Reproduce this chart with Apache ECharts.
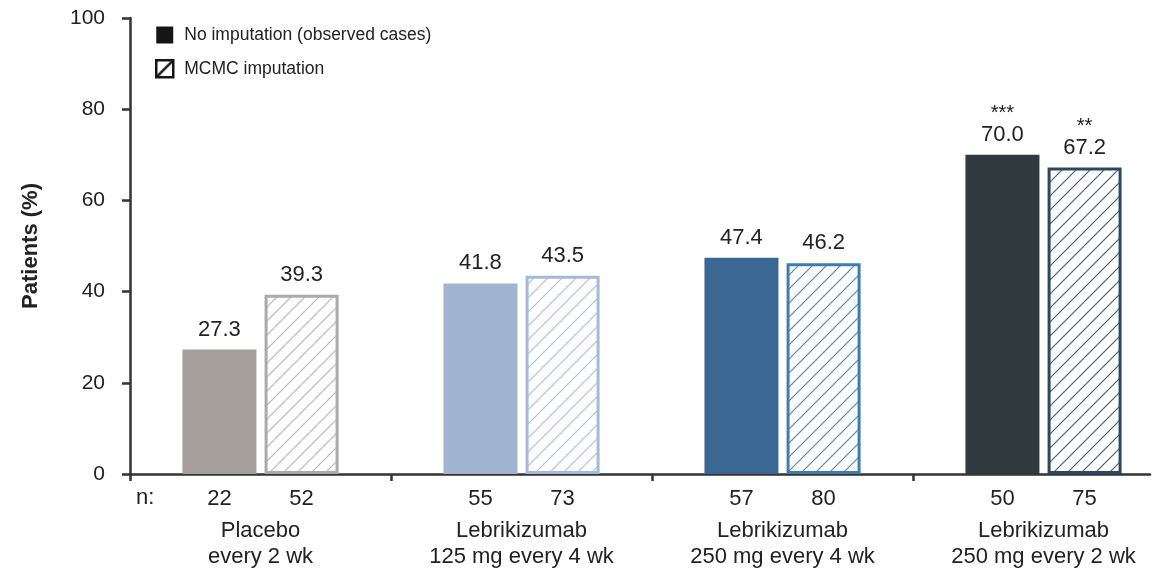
<!DOCTYPE html>
<html>
<head>
<meta charset="utf-8">
<script src="https://cdn.jsdelivr.net/npm/echarts@6/dist/echarts.min.js"></script>
<style>
  html, body { margin: 0; padding: 0; background: #fff; }
  #chart-container { width: 1164px; height: 571px; }
</style>
</head>
<body>
<div id="chart-container"></div>
<script>
var groupLine1 = ['Placebo', 'Lebrikizumab', 'Lebrikizumab', 'Lebrikizumab'];
var groupLine2 = ['every 2 wk', '125 mg every 4 wk', '250 mg every 4 wk', '250 mg every 2 wk'];
var observed = [27.3, 41.8, 47.4, 70.0];
var mcmc = [39.3, 43.5, 46.2, 67.2];
var nObserved = [22, 55, 57, 50];
var nMcmc = [52, 73, 80, 75];
var starsObserved = ['', '', '', '***'];
var starsMcmc = ['', '', '', '**'];
var yTicks = [0, 20, 40, 60, 80, 100];

var solidColors = ['#a69e9b', '#a0b3cf', '#3b6893', '#30393e'];
var hatchBorder = ['#a9abab', '#a5bad8', '#3e7eaf', '#2c4761'];
var hatchLines = ['#b8b8b8', '#adc1dd', '#5089b8', '#42607a'];

var FONT = "'Liberation Sans', Arial, sans-serif";

// group slots on a numeric x axis: boundaries at 0,1,2,3; axis runs a bit short of 4
var groupBounds = [0, 1, 2, 3];
var groupCenters = [0.5, 1.5, 2.5, 3.5];

function hatch(color, s, w) {
  var c = document.createElement('canvas');
  c.width = s; c.height = s;
  var ctx = c.getContext('2d');
  ctx.fillStyle = '#fff';
  ctx.fillRect(0, 0, s, s);
  ctx.strokeStyle = color;
  ctx.lineWidth = w;
  ctx.beginPath();
  ctx.moveTo(0, s); ctx.lineTo(s, 0);
  ctx.moveTo(-2, 2); ctx.lineTo(2, -2);
  ctx.moveTo(s - 2, s + 2); ctx.lineTo(s + 2, s - 2);
  ctx.stroke();
  return { image: c, repeat: 'repeat' };
}

var dom = document.getElementById('chart-container');
var myChart = echarts.init(dom, null, { renderer: 'canvas' });

function valueLabel(vals, stars) {
  return function (p) {
    var s = stars[p.dataIndex];
    var v = '{v|' + vals[p.dataIndex].toFixed(1) + '}';
    return s ? '{s|' + s + '}\n' + v : v;
  };
}

var labelRich = {
  v: { fontSize: 22, color: '#222', fontFamily: FONT, lineHeight: 24 },
  s: { fontSize: 20, color: '#222', fontFamily: FONT, lineHeight: 18 }
};

var option = {
  animation: false,
  grid: { left: 130, right: 14, top: 18, bottom: 97 },
  legend: {
    orient: 'vertical',
    left: 150,
    top: 21,
    itemWidth: 17,
    itemHeight: 17,
    itemGap: 15,
    icon: 'rect',
    textStyle: { fontSize: 17.5, color: '#222', fontFamily: FONT, padding: [0, 0, 0, 6] },
    data: [
      { name: 'No imputation (observed cases)', itemStyle: { color: '#151515' } },
      { name: 'MCMC imputation', itemStyle: { color: hatch('#151515', 17, 2.5), borderColor: '#151515', borderWidth: 2.5 } }
    ]
  },
  graphic: [{
    type: 'text', left: 136, top: 487,
    style: { text: 'n:', fontSize: 22, fill: '#222', fontFamily: FONT }
  }],
  xAxis: {
    type: 'value',
    min: 0,
    max: 3.908,
    interval: 1,
    splitLine: { show: false },
    axisLine: { show: true, lineStyle: { color: '#333', width: 2.5 } },
    axisTick: { show: true, length: 7, customValues: groupBounds, lineStyle: { color: '#333', width: 2.5 } },
    axisLabel: {
      margin: 6,
      customValues: groupCenters,
      formatter: function (val) {
        var i = Math.floor(val);
        return '{a|' + nObserved[i] + '}{a|' + nMcmc[i] + '}\n{c|' + groupLine1[i] + '}\n{c|' + groupLine2[i] + '}';
      },
      rich: {
        a: { width: 82, align: 'center', fontSize: 22, color: '#222', fontFamily: FONT, lineHeight: 38 },
        c: { fontSize: 22, color: '#222', fontFamily: FONT, lineHeight: 26, align: 'center' }
      }
    }
  },
  yAxis: {
    type: 'value',
    min: yTicks[0],
    max: yTicks[yTicks.length - 1],
    interval: 20,
    name: 'Patients (%)',
    nameLocation: 'middle',
    nameGap: 88,
    nameTextStyle: { fontSize: 22, fontWeight: 'bold', color: '#222', fontFamily: FONT },
    splitLine: { show: false },
    axisLine: { show: true, lineStyle: { color: '#333', width: 2.5 } },
    axisTick: { show: true, length: 8, lineStyle: { color: '#333', width: 2.5 } },
    axisLabel: { margin: 25, fontSize: 21, color: '#222', fontFamily: FONT }
  },
  series: [
    {
      name: 'No imputation (observed cases)',
      type: 'bar',
      barWidth: 74,
      barGap: '11%',
      data: observed.map(function (v, i) {
        return { value: [groupCenters[i], v], itemStyle: { color: solidColors[i] } };
      }),
      label: { show: true, position: 'top', distance: 8, formatter: valueLabel(observed, starsObserved), rich: labelRich }
    },
    {
      name: 'MCMC imputation',
      type: 'bar',
      barWidth: 74,
      barGap: '11%',
      data: mcmc.map(function (v, i) {
        return {
          value: [groupCenters[i], v],
          itemStyle: { color: hatch(hatchLines[i], 14, 1.2), borderColor: hatchBorder[i], borderWidth: 3 }
        };
      }),
      label: { show: true, position: 'top', distance: 8, formatter: valueLabel(mcmc, starsMcmc), rich: labelRich }
    }
  ]
};

myChart.setOption(option);
window.addEventListener('resize', myChart.resize);
</script>
</body>
</html>
